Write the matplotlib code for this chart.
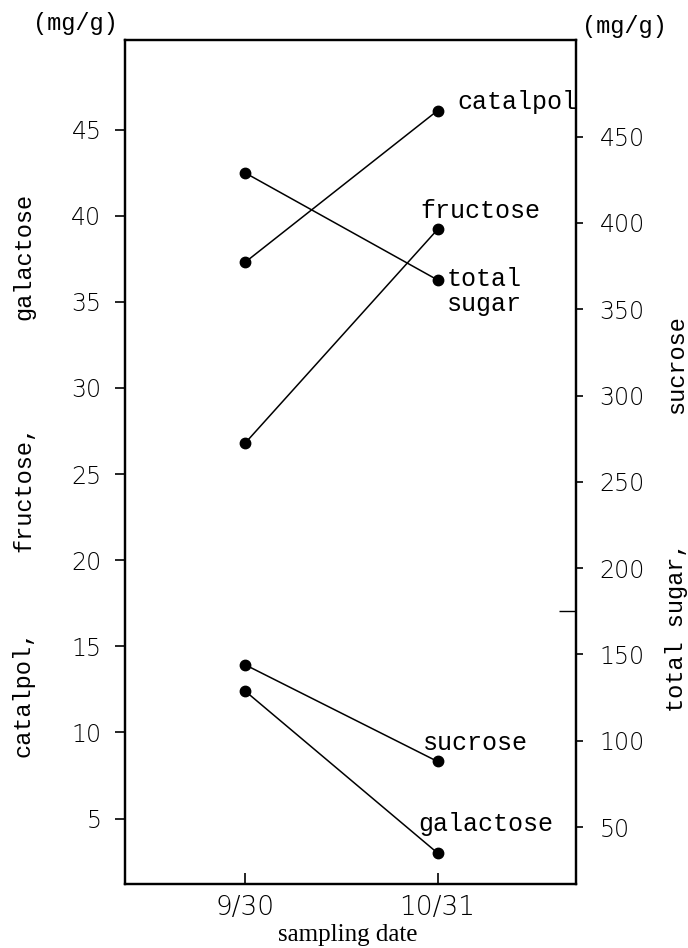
import numpy as np
import matplotlib.pyplot as plt

# values
dates = ['9/30', '10/31']
catalpol = [37.3, 46.1]      # left axis (mg/g)
fructose = [26.8, 39.2]      # left axis
galactose = [12.4, 3.0]      # left axis
total_sugar = [429, 367]     # right axis (mg/g)
sucrose = [144, 88]          # right axis

left_ticks = [5, 10, 15, 20, 25, 30, 35, 40, 45]
right_ticks = [50, 100, 150, 200, 250, 300, 350, 400, 450]

mono = 'Liberation Mono'
ytick_font = {'family': 'DejaVu Sans', 'size': 17, 'weight': 'light'}
xtick_font = {'family': 'DejaVu Sans', 'size': 19, 'weight': 'light'}

fig = plt.figure(figsize=(6.88, 9.48), dpi=100)
ax = fig.add_axes([0.1817, 0.0675, 0.6555, 0.8903])
ax2 = ax.twinx()

x = np.arange(len(dates))
style = dict(color='black', linewidth=1.1, marker='o', markersize=7.5)
ax.plot(x, catalpol, **style)
ax.plot(x, fructose, **style)
ax.plot(x, galactose, **style)
ax2.plot(x, total_sugar, **style)
ax2.plot(x, sucrose, **style)

ax.set_xlim(-0.625, 1.72)
ax.set_ylim(1.2, 50.2)
ax2.set_ylim(17, 506)

ax.set_xticks(x)
ax.set_xticklabels(dates, fontdict=xtick_font)
ax.set_yticks(left_ticks)
ax.set_yticklabels([str(t) for t in left_ticks], fontdict=ytick_font)
ax2.set_yticks(right_ticks)
ax2.set_yticklabels([str(t) for t in right_ticks], fontdict=ytick_font)
ax2.set_yticks([175], minor=True)

ax.tick_params(axis='x', direction='in', length=8, width=1.2, pad=8)
ax.tick_params(axis='y', direction='out', length=7, width=1.2, pad=10)
ax2.tick_params(axis='y', direction='out', length=5, width=1.2, pad=12)
ax2.tick_params(axis='y', which='minor', direction='in', length=12, width=1.0)

for a in (ax, ax2):
    for s in a.spines.values():
        s.set_linewidth(1.6)

# series names next to the 10/31 points
lab = dict(fontsize=18, family=mono, va='center', ha='left')
ax.text(1.104, 46.6, 'catalpol', **lab)
ax.text(0.911, 40.3, 'fructose', **lab)
ax.text(1.047, 35.6, 'total\nsugar', linespacing=1.05, **lab)
ax.text(0.922, 9.4, 'sucrose', **lab)
ax.text(0.901, 4.7, 'galactose', **lab)

# axis titles, one word group at a time as in the original
ylab = dict(rotation=90, ha='center', va='center', fontsize=17, family=mono)
fig.text(0.034, 0.729, 'galactose', **ylab)
fig.text(0.034, 0.485, 'fructose,', **ylab)
fig.text(0.034, 0.268, 'catalpol,', **ylab)
fig.text(0.984, 0.615, 'sucrose', **ylab)
fig.text(0.984, 0.338, 'total sugar,', **ylab)

fig.text(0.109, 0.975, '(mg/g)', ha='center', va='center', fontsize=17, family=mono)
fig.text(0.907, 0.972, '(mg/g)', ha='center', va='center', fontsize=17, family=mono)
fig.text(0.505, 0.014, 'sampling date', ha='center', va='center',
         fontsize=18, family='Liberation Serif')

fig.savefig('out.png', dpi=100)
